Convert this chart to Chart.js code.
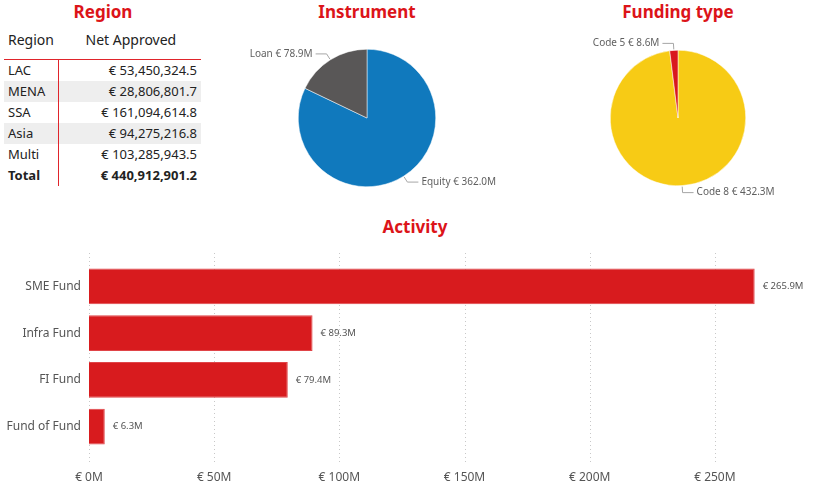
<!DOCTYPE html>
<html>
<head>
<meta charset="utf-8">
<script src="https://cdn.jsdelivr.net/npm/chart.js@4"></script>
<style>
  html, body { margin:0; padding:0; width:820px; height:500px; overflow:hidden; background:#fff; font-family:"Noto Sans", "Open Sans", sans-serif; }
  .title { position:absolute; color:#DC1419; font-weight:bold; font-size:17px; line-height:20px; text-align:center; white-space:nowrap; }
  canvas { position:absolute; }
  #tbl { position:absolute; left:4px; top:28px; width:197px; border-collapse:collapse; font-size:13px; color:#222; }
  #tbl th { font-weight:normal; font-size:14px; height:31px; text-align:left; vertical-align:top; padding:2px 0 0 0; box-sizing:border-box; border-bottom:1.5px solid #E0242B; }
  #tbl td { height:21px; padding:0; }
  #tbl td.l { padding-left:4px; width:50px; border-right:1.5px solid #E0242B; }
  #tbl td.v { text-align:right; padding-right:4px; }
  #tbl tr.alt td { background:#EEEEEE; }
  #tbl tr.tot td { font-weight:bold; }
</style>
</head>
<body>
<div class="title" style="left:43px; top:2px; width:120px;">Region</div>
<div class="title" style="left:287px; top:2px; width:160px;">Instrument</div>
<div class="title" style="left:598px; top:2px; width:160px;">Funding type</div>
<div class="title" style="left:335px; top:217px; width:160px;">Activity</div>

<table id="tbl"></table>

<canvas id="pie1" width="300" height="176" style="left:217px; top:30px; width:300px; height:176px;"></canvas>
<canvas id="pie2" width="284" height="176" style="left:536px; top:30px; width:284px; height:176px;"></canvas>
<canvas id="bar" width="820" height="260" style="left:0px; top:240px; width:820px; height:260px;"></canvas>

<script>
// ---- Data ----
const regionNames = ["LAC", "MENA", "SSA", "Asia", "Multi"];
const regionValues = [53450324.5, 28806801.7, 161094614.8, 94275216.8, 103285943.5];
const regionTotal = 440912901.2;

const instrumentLabels = ["Equity", "Loan"];
const instrumentValues = [362.0, 78.9];

const fundingLabels = ["Code 8", "Code 5"];
const fundingValues = [432.3, 8.6];

const activityLabels = ["SME Fund", "Infra Fund", "FI Fund", "Fund of Fund"];
const activityValues = [265.9, 89.3, 79.4, 6.3];
const activityTicks = [0, 50, 100, 150, 200, 250];

// ---- Table ----
function fmt(v) {
  return "€ " + v.toLocaleString("en-US", {minimumFractionDigits:1, maximumFractionDigits:1});
}
(function buildTable(){
  const t = document.getElementById("tbl");
  let h = '<tr><th style="padding-left:4px;">Region</th><th style="padding-left:27px;">Net Approved</th></tr>';
  regionNames.forEach((n, i) => {
    h += '<tr class="' + (i % 2 === 1 ? 'alt' : '') + '"><td class="l">' + n + '</td><td class="v">' + fmt(regionValues[i]) + '</td></tr>';
  });
  h += '<tr class="tot"><td class="l">Total</td><td class="v">' + fmt(regionTotal) + '</td></tr>';
  t.innerHTML = h;
})();

const labelFont = '10px "Noto Sans", "Open Sans", sans-serif';

// ---- Pie label plugin ----
const pieLabels = {
  id: 'pieLabels',
  afterDatasetsDraw(chart) {
    const ctx = chart.ctx;
    const meta = chart.getDatasetMeta(0);
    const labels = chart.data.labels;
    const data = chart.data.datasets[0].data;
    ctx.save();
    ctx.font = labelFont;
    ctx.textBaseline = 'middle';
    meta.data.forEach((arc, i) => {
      const p = arc.getProps(['x','y','startAngle','endAngle','outerRadius'], true);
      const a = (p.startAngle + p.endAngle) / 2;
      const c = Math.cos(a), s = Math.sin(a);
      const x0 = p.x + c * (p.outerRadius + 1), y0 = p.y + s * (p.outerRadius + 1);
      const x1 = p.x + c * (p.outerRadius + 7), y1 = p.y + s * (p.outerRadius + 7);
      const side = c >= 0 ? 1 : -1;
      const x2 = x1 + side * 11;
      ctx.strokeStyle = '#A6A6A6';
      ctx.lineWidth = 1;
      ctx.beginPath();
      ctx.moveTo(x0, y0); ctx.lineTo(x1, y1); ctx.lineTo(x2, y1);
      ctx.stroke();
      ctx.fillStyle = '#5F5F5F';
      ctx.textAlign = side > 0 ? 'left' : 'right';
      ctx.fillText(labels[i] + ' € ' + data[i].toFixed(1) + 'M', x2 + side * 3, y1);
    });
    ctx.restore();
  }
};

function makePie(id, labels, values, colors, padLR) {
  return new Chart(document.getElementById(id), {
    type: 'pie',
    data: { labels: labels, datasets: [{ data: values, backgroundColor: colors, borderColor: '#ffffff', borderWidth: 0.5 }] },
    options: {
      responsive: false,
      animation: false,
      layout: { padding: { left: padLR, right: padLR, top: 19, bottom: 19 } },
      plugins: { legend: { display: false }, tooltip: { enabled: false } }
    },
    plugins: [pieLabels]
  });
}
makePie('pie1', instrumentLabels, instrumentValues, ['#1079BD', '#595757'], 81);
makePie('pie2', fundingLabels, fundingValues, ['#F7CB15', '#D9181E'], 74);

// ---- Bar chart ----
const barExtras = {
  id: 'barExtras',
  beforeDatasetsDraw(chart) {
    const ctx = chart.ctx;
    const xs = chart.scales.x;
    ctx.save();
    ctx.strokeStyle = '#C8C8C8';
    ctx.lineWidth = 1;
    ctx.setLineDash([1, 3]);
    activityTicks.forEach(t => {
      const x = Math.round(xs.getPixelForValue(t)) + 0.5;
      ctx.beginPath();
      ctx.moveTo(x, 13); ctx.lineTo(x, 225);
      ctx.stroke();
    });
    ctx.restore();
  },
  afterDatasetsDraw(chart) {
    const ctx = chart.ctx;
    const meta = chart.getDatasetMeta(0);
    ctx.save();
    ctx.font = '9.5px "Noto Sans", "Open Sans", sans-serif';
    ctx.fillStyle = '#555555';
    ctx.textAlign = 'left';
    ctx.textBaseline = 'middle';
    meta.data.forEach((bar, i) => {
      ctx.fillText('€ ' + activityValues[i].toFixed(1) + 'M', bar.x + 8, bar.y);
    });
    ctx.restore();
  }
};

new Chart(document.getElementById('bar'), {
  type: 'bar',
  data: {
    labels: activityLabels,
    datasets: [{
      data: activityValues,
      backgroundColor: '#D81B1E',
      borderColor: '#E04448',
      borderWidth: 1,
      barPercentage: 0.76,
      categoryPercentage: 1
    }]
  },
  options: {
    indexAxis: 'y',
    responsive: false,
    animation: false,
    layout: { padding: { left: 0, right: 15, top: 23, bottom: 0 } },
    plugins: { legend: { display: false }, tooltip: { enabled: false } },
    scales: {
      x: {
        min: 0, max: 286,
        grid: { display: false, drawTicks: false },
        border: { display: false },
        ticks: {
          stepSize: 50,
          padding: 20,
          color: '#555555',
          font: { family: '"Noto Sans", "Open Sans", sans-serif', size: 12 },
          callback: v => '€ ' + v + 'M'
        },
        afterBuildTicks: s => { s.ticks = activityTicks.map(v => ({ value: v })); },
        afterFit: s => { s.height = 50; }
      },
      y: {
        grid: { display: false, drawTicks: false },
        border: { display: false },
        ticks: {
          padding: 8,
          color: '#555555',
          font: { family: '"Noto Sans", "Open Sans", sans-serif', size: 12 }
        },
        afterFit: s => { s.width = 89; }
      }
    }
  },
  plugins: [barExtras]
});
</script>
</body>
</html>
